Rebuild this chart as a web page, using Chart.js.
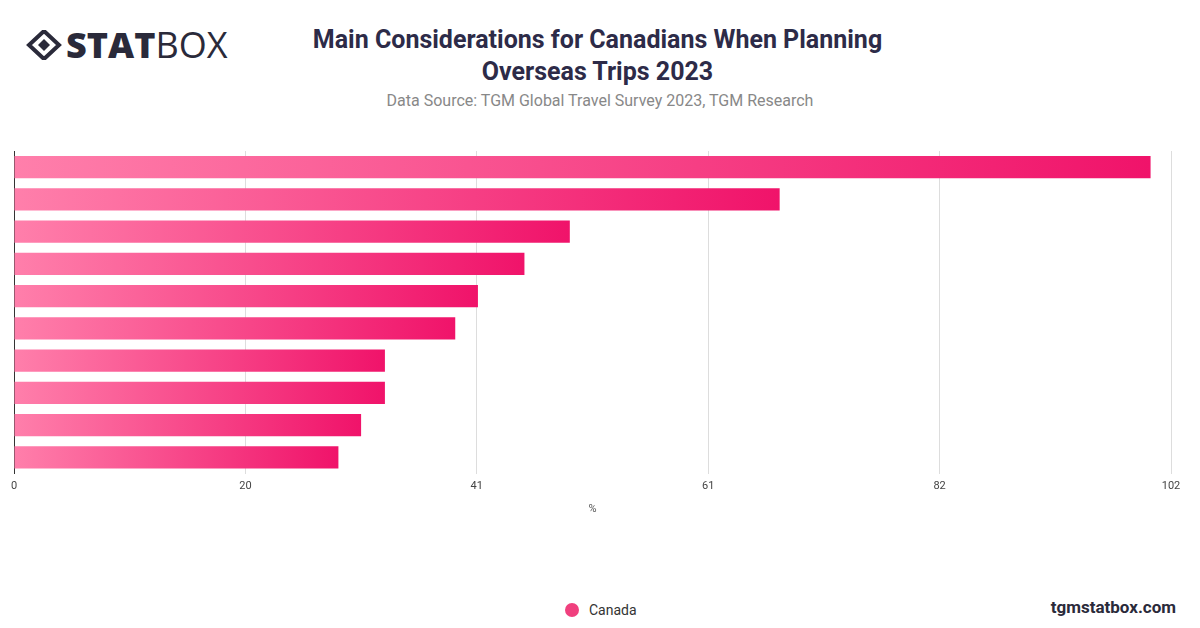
<!DOCTYPE html>
<html>
<head>
<meta charset="utf-8">
<script src="https://cdn.jsdelivr.net/npm/chart.js@4"></script>
<style>
  body { margin: 0; width: 1200px; height: 628px; background: #fff; font-family: "Open Sans", Roboto, sans-serif; position: relative; overflow: hidden; }
  .logo { position: absolute; left: 26px; top: 20px; font-size: 36px; color: #2a2a3a; letter-spacing: 0px; display: flex; align-items: center; }
  .logo b { font-weight: 800; }
  .logo span { font-weight: 400; }
  h1 { position: absolute; left: 0; width: 1195px; top: 24px; margin: 0; text-align: center; font-size: 25px; line-height: 32px; color: #2d2b48; font-weight: 700; font-family: Roboto, sans-serif; }
  .src { position: absolute; left: 0; width: 1200px; top: 91px; text-align: center; font-size: 16px; color: #888; font-family: Roboto, sans-serif; }
  #wrap { position: absolute; left: 0; top: 140px; width: 1200px; height: 380px; }
  .legend { position: absolute; top: 602px; left: 565px; font-size: 14px; color: #333; display: flex; align-items: center; font-family: Roboto, sans-serif; }
  .legend i { width: 14px; height: 14px; border-radius: 50%; background: #f0407e; margin-right: 10px; display: inline-block; }
  .foot { position: absolute; right: 24px; top: 597px; font-size: 17px; font-weight: 700; color: #2a2a3a; font-family: Roboto, sans-serif; }
</style>
</head>
<body>
<div class="logo">
  <svg width="36" height="30" viewBox="0 0 36 30" style="margin-right:4px">
    <polygon points="18,1 33,15 18,29 3,15" fill="none" stroke="#2a2a3a" stroke-width="4"/>
    <polygon points="18,9 24,15 18,21 12,15" fill="#2a2a3a"/>
  </svg><b>STAT</b><span>BOX</span>
</div>
<h1>Main Considerations for Canadians When Planning<br>Overseas Trips 2023</h1>
<div class="src">Data Source: TGM Global Travel Survey 2023, TGM Research</div>
<div id="wrap"><canvas id="myChart"></canvas></div>
<div class="legend"><i></i>Canada</div>
<div class="foot">tgmstatbox.com</div>
<script>
var categories = ["Cost of the trip", "Safety", "Attractions", "Weather", "Accommodation", "Food", "Culture", "Flight options", "Visa requirements", "Recommendations"];
var canadaValues = [100.2, 67.5, 49, 45, 40.9, 38.9, 32.7, 32.7, 30.6, 28.6];
var tickValues = [0, 20.4, 40.8, 61.2, 81.6, 102];
var tickLabels = ["0", "20", "41", "61", "82", "102"];

function barGradient(context) {
  var chart = context.chart;
  var area = chart.chartArea;
  if (!area) return "#f0407e";
  var x = chart.scales.x;
  var x0 = x.getPixelForValue(0);
  var x1 = x.getPixelForValue(context.raw);
  var g = chart.ctx.createLinearGradient(x0, 0, x1, 0);
  g.addColorStop(0, "#ff7fab");
  g.addColorStop(1, "#f0136a");
  return g;
}

new Chart(document.getElementById("myChart"), {
  type: "bar",
  data: {
    labels: categories,
    datasets: [{
      label: "Canada",
      data: canadaValues,
      backgroundColor: barGradient,
      barPercentage: 0.69,
      categoryPercentage: 1
    }]
  },
  options: {
    indexAxis: "y",
    responsive: true,
    maintainAspectRatio: false,
    animation: false,
    layout: { padding: { left: 6, right: 29, top: 11 } },
    plugins: { legend: { display: false }, tooltip: { enabled: false } },
    scales: {
      x: {
        min: 0, max: 102,
        afterBuildTicks: function (axis) { axis.ticks = tickValues.map(function (v) { return { value: v }; }); },
        ticks: { color: "#444", font: { size: 11, family: "Roboto" }, padding: 6,
          callback: function (v, i) { return tickLabels[i]; } },
        grid: { color: "#ddd", drawTicks: false },
        border: { display: false },
        title: { display: true, text: "%", color: "#555", font: { size: 11, family: "Roboto" }, padding: { top: 4 } }
      },
      y: {
        ticks: { display: false },
        grid: { display: false },
        border: { display: true, color: "#333" }
      }
    }
  }
});
</script>
</body>
</html>
